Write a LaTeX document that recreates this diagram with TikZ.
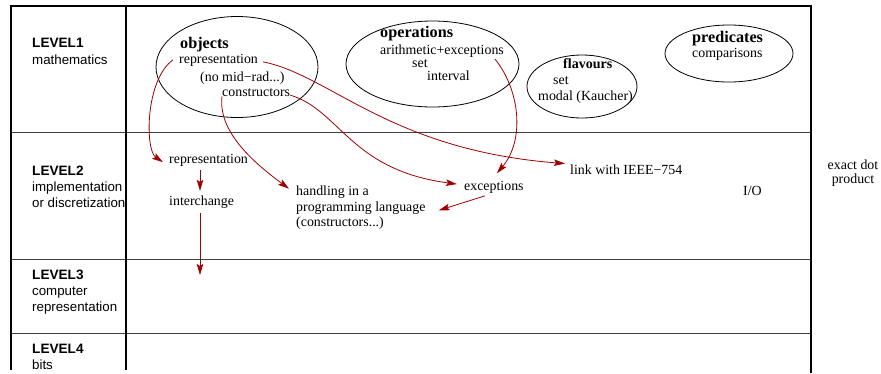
\documentclass[tikz,border=0pt]{standalone}
\usepackage{fontspec}
\setmainfont{Liberation Serif}
\newfontfamily\sansf{Liberation Sans}
\usetikzlibrary{arrows.meta,shapes.geometric}
\definecolor{arrred}{RGB}{160,0,0}
\begin{document}
\begin{tikzpicture}[x=1pt,y=-1pt,
  txt/.style={inner sep=0pt, anchor=base west, font=\fontsize{13.9}{16}\selectfont},
  txtc/.style={inner sep=0pt, anchor=base, font=\fontsize{13.9}{16}\selectfont},
  hd/.style={inner sep=0pt, anchor=base west, font=\fontsize{16.2}{18}\selectfont\bfseries},
  hds/.style={inner sep=0pt, anchor=base west, font=\fontsize{14}{16}\selectfont\bfseries},
  lab/.style={inner sep=0pt, anchor=base west, font=\sansf\fontsize{13.3}{16}\selectfont},
  labb/.style={inner sep=0pt, anchor=base west, font=\sansf\bfseries\fontsize{13.6}{16}\selectfont},
  frameline/.style={line width=1.6pt, line join=miter},
  sepline/.style={line width=1pt, draw=black!75},
  oval/.style={draw, ellipse, line width=0.8pt, inner sep=0pt},
  arr/.style={draw=arrred, line width=0.8pt, -{Stealth[length=11pt,width=6.5pt,inset=2pt]}}
]
\useasboundingbox (0,0) rectangle (881,373);

% frame
\draw[sepline] (11,132) -- (811,132);
\draw[sepline] (11,259) -- (811,259);
\draw[sepline] (11,333) -- (811,333);
\draw[frameline] (11,370) -- (11,6) -- (811,6) -- (811,373);
\draw[frameline] (126,6) -- (126,370);

% left column labels
\node[labb] (L1) at (32,47.3) {LEVEL1};
\node[lab] (L1a) at (32,64) {mathematics};
\node[labb] (L2) at (32,175) {LEVEL2};
\node[lab] (L2a) at (32,191) {implementation};
\node[lab] (L2b) at (32,207) {or discretization};
\node[labb] (L3) at (32,279) {LEVEL3};
\node[lab] (L3a) at (32,295.5) {computer};
\node[lab] (L3b) at (32,311.5) {representation};
\node[labb] (L4) at (32,353) {LEVEL4};
\node[lab] (L4a) at (32,369) {bits};

% ellipses
\node[oval, minimum width=162pt, minimum height=101pt] (objE) at (237,67) {};
\node[oval, minimum width=173pt, minimum height=86pt] (opsE) at (432.5,64) {};
\node[oval, minimum width=110pt, minimum height=63pt] (flaE) at (582,86.5) {};
\node[oval, minimum width=128pt, minimum height=57pt] (preE) at (729,53.5) {};

% level 1 texts
\node[hd] (obj) at (180,48) {objects};
\node[txt] (orep) at (179,63) {representation};
\node[txt] (nomid) at (200,81) {(no mid\textminus rad...)};
\node[txt] (cons) at (222,96) {constructors};

\node[hd] (ops) at (380,37) {operations};
\node[txt] (arith) at (380,54) {arithmetic+exceptions};
\node[txt] (oset) at (412,67) {set};
\node[txt] (oint) at (427,80) {interval};

\node[hds] (fla) at (563,68.3) {flavours};
\node[txt] (fset) at (553,84.3) {set};
\node[txt] (fmod) at (538,100) {modal (Kaucher)};

\node[hd] (pre) at (692,42.7) {predicates};
\node[txt] (comp) at (692,57.3) {comparisons};

% level 2 texts
\node[txt] (lrep) at (169,163.3) {representation};
\node[txt] (inter) at (169,205.7) {interchange};
\node[txt] (hand) at (296,195) {handling in a};
\node[txt] (prog) at (296,211.7) {programming language};
\node[txt] (pcons) at (296,226.5) {(constructors...)};
\node[txt] (exc) at (464,190.7) {exceptions};
\node[txt] (link) at (570,174.3) {link with IEEE\textminus 754};
\node[txt] (io) at (743,195.7) {I/O};
\node[txtc] (exd) at (853,169.3) {exact dot};
\node[txtc] (prod) at (853,183.5) {product};

\coordinate (l3tip) at (200,275);

% arrows
\draw[arr] ([xshift=-6pt]orep.west) .. controls (145,80) and (145,150) .. ([xshift=-6pt,yshift=-2pt]lrep.west);
\draw[arr] ([xshift=5pt,yshift=-2pt]orep.east) .. controls (330,75) and (390,150) .. ([xshift=-5pt,yshift=6pt]link.west);
\draw[arr] ([yshift=-3pt]cons.east) .. controls (340,110) and (350,170) .. ([xshift=-7pt,yshift=3.5pt]exc.west);
\draw[arr] (cons.south west) .. controls (218,130) and (250,160) .. ([xshift=-7pt,yshift=3pt]hand.west);
\draw[arr] ([xshift=-9pt,yshift=-2pt]arith.south east) .. controls (520,90) and (525,140) .. ([xshift=3pt,yshift=8pt]exc.north);
\draw[arr] ([xshift=-9pt,yshift=-2pt]exc.south) -- ([xshift=13pt,yshift=-2pt]prog.east);
\draw[arr] ([xshift=31pt,yshift=-4pt]lrep.south west) -- ([xshift=31pt,yshift=5pt]inter.north west);
\draw[arr] ([xshift=31pt,yshift=-4pt]inter.south west) -- (l3tip);
\end{tikzpicture}
\end{document}
